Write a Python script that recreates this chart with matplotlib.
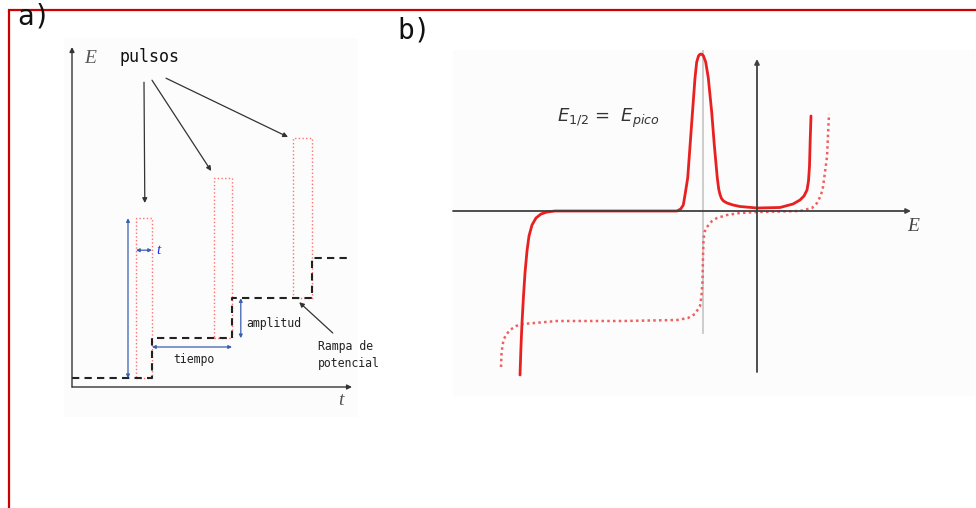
import matplotlib.pyplot as plt
from matplotlib.patches import Rectangle

# --- panel a: staircase ramp with superimposed pulses (t in step periods, E in step heights)
step_edges = [0.0, 1.0, 2.0, 3.0, 3.5]
ramp_levels = [0.22, 1.22, 2.22, 3.22, 3.22]
pulse_widths = [0.20, 0.22, 0.24]
pulse_amplitude = 4.0

# --- panel b: current vs potential (arbitrary units)
diff_E = [-2.37, -2.36, -2.35, -2.335, -2.32, -2.30, -2.28, -2.25, -2.21, -2.16,
          -2.10, -2.02, -1.57, -0.80, -0.763, -0.737, -0.72, -0.693, -0.669, -0.645,
          -0.62, -0.603, -0.585, -0.573, -0.56, -0.547, -0.535, -0.513, -0.487, -0.453,
          -0.427, -0.397, -0.383, -0.37, -0.355, -0.335, -0.30, -0.24, -0.17, 0.00,
          0.23, 0.36, 0.43, 0.47, 0.50, 0.515, 0.525, 0.532, 0.54]
diff_i = [-1.64, -1.35, -1.12, -0.85, -0.62, -0.40, -0.25, -0.14, -0.07, -0.03,
          -0.01, 0.0, 0.0, 0.0, 0.02, 0.06, 0.16, 0.33, 0.66, 0.99,
          1.33, 1.49, 1.55, 1.565, 1.57, 1.565, 1.55, 1.49, 1.33, 0.99,
          0.66, 0.33, 0.22, 0.165, 0.125, 0.10, 0.08, 0.06, 0.045, 0.03,
          0.035, 0.07, 0.11, 0.15, 0.21, 0.30, 0.45, 0.71, 0.95]

norm_E = [-2.56, -2.555, -2.545, -2.53, -2.51, -2.47, -2.41, -2.34, -2.00, -1.34,
          -0.80, -0.69, -0.62, -0.57, -0.555, -0.545, -0.54, -0.535, -0.525, -0.50,
          -0.45, -0.40, -0.30, -0.17, 0.00, 0.43, 0.55, 0.60, 0.64, 0.66,
          0.68, 0.70, 0.71, 0.72]
norm_i = [-1.56, -1.43, -1.34, -1.28, -1.24, -1.19, -1.15, -1.13, -1.10, -1.10,
          -1.09, -1.07, -1.03, -0.95, -0.85, -0.70, -0.46, -0.29, -0.21, -0.16,
          -0.10, -0.07, -0.04, -0.02, -0.01, 0.0, 0.03, 0.08, 0.16, 0.24,
          0.39, 0.54, 0.76, 0.97]

E_half = -0.54

W, H = 976, 508
fig = plt.figure(figsize=(W / 100, H / 100), dpi=100)

# red frame, only top and left edges fall inside the canvas
fig.add_artist(Rectangle((8.5 / W, -0.1), 1.2, 1 - 10 / H + 0.1, transform=fig.transFigure,
                         fill=False, edgecolor="#cc0000", lw=1.6))

mono = "DejaVu Sans Mono"
fig.text(17 / W, 1 - 17 / H, "a)", fontsize=20, family=mono, va="center", color="#111")
fig.text(397 / W, 1 - 30 / H, "b)", fontsize=20, family=mono, va="center", color="#111")


def clean(ax):
    ax.set_xticks([])
    ax.set_yticks([])
    for s in ax.spines.values():
        s.set_visible(False)
    ax.set_facecolor("#fcfcfc")


# ---------------- panel a
ax = fig.add_axes([64 / W, 1 - 417 / H, 294 / W, 379 / H])
clean(ax)
ax.set_xlim(-0.1, 3.575)
ax.set_ylim(-0.75, 8.725)

axis_kw = dict(arrowstyle="-|>", color="#333", lw=1.0, mutation_scale=7, shrinkA=0, shrinkB=0)
ax.annotate("", xy=(0, 8.5), xytext=(0, 0), arrowprops=axis_kw)
ax.annotate("", xy=(3.5, 0), xytext=(0, 0), arrowprops=axis_kw)

for k, w in enumerate(pulse_widths):
    ax.add_patch(Rectangle((step_edges[k + 1] - w, ramp_levels[k]), w, pulse_amplitude,
                           fill=False, edgecolor="#ff7070", lw=1.0, ls=":"))

ax.step(step_edges, ramp_levels, where="post", color="#222", lw=1.5, ls=(0, (3.5, 2.5)))

ax.text(0.15, 8.22, "E", family="Liberation Serif", style="italic", fontsize=14,
        color="#555", va="center")
ax.text(3.33, -0.33, "t", family="Liberation Serif", style="italic", fontsize=14,
        color="#555", va="center")
ax.text(0.59, 8.25, "pulsos", family=mono, fontsize=12, color="#111", va="center")

ptr = dict(arrowstyle="-|>", color="#333", lw=0.9, mutation_scale=7, shrinkA=0, shrinkB=0)
ax.annotate("", xy=(0.91, 4.6), xytext=(0.9, 7.62), arrowprops=ptr)
ax.annotate("", xy=(1.74, 5.4), xytext=(1.0, 7.67), arrowprops=ptr)
ax.annotate("", xy=(2.7, 6.25), xytext=(1.175, 7.72), arrowprops=ptr)

blue = "#3a5fb0"
dbl = dict(arrowstyle="<|-|>", color=blue, lw=0.9, mutation_scale=5, shrinkA=0, shrinkB=0)
ax.annotate("", xy=(0.7, ramp_levels[0] + pulse_amplitude), xytext=(0.7, ramp_levels[0]), arrowprops=dbl)
ax.annotate("", xy=(1.0, 3.42), xytext=(0.8, 3.42), arrowprops=dbl)
ax.text(1.05, 3.42, "t", family="Liberation Serif", style="italic", fontsize=11,
        color="#2030e0", va="center")
ax.annotate("", xy=(2.0, 1.0), xytext=(1.0, 1.0), arrowprops=dbl)
ax.text(1.53, 0.68, "tiempo", family=mono, fontsize=8.3, color="#222", ha="center", va="center")
ax.annotate("", xy=(2.11, ramp_levels[2]), xytext=(2.11, ramp_levels[1]), arrowprops=dbl)
ax.text(2.18, 1.6, "amplitud", family=mono, fontsize=8.3, color="#222", va="center")

ax.annotate("", xy=(2.84, 2.12), xytext=(3.26, 1.35), arrowprops=ptr)
ax.text(3.07, 0.8, "Rampa de\npotencial", family=mono, fontsize=8.3, color="#222",
        va="center", linespacing=1.4)

# ---------------- panel b
bx = fig.add_axes([453 / W, 1 - 396 / H, 522 / W, 346 / H])
clean(bx)
bx.set_xlim(-3.04, 2.18)
bx.set_ylim(-1.85, 1.61)

bx_kw = dict(arrowstyle="-|>", color="#404040", lw=1.3, mutation_scale=7, shrinkA=0, shrinkB=0)
bx.annotate("", xy=(1.54, 0), xytext=(-3.04, 0), arrowprops=bx_kw)
bx.annotate("", xy=(0, 1.52), xytext=(0, -1.61), arrowprops=bx_kw)

bx.plot([E_half, E_half], [-1.22, 1.61], color="#c8c8c8", lw=1.3)

bx.plot(norm_E, norm_i, color="#f06060", lw=1.8, ls=(0, (1, 1.3)))
bx.plot(diff_E, diff_i, color="#e82020", lw=2.0, solid_capstyle="round", solid_joinstyle="round")

bx.text(1.50, -0.16, "E", family="Liberation Serif", style="italic", fontsize=14,
        color="#444", va="center")
bx.text(-2.0, 0.93, r"$E_{\mathit{1/2}}$ =  $E_{\mathit{pico}}$", fontsize=13,
        color="#333", va="center")

fig.savefig("out.png", dpi=100)
